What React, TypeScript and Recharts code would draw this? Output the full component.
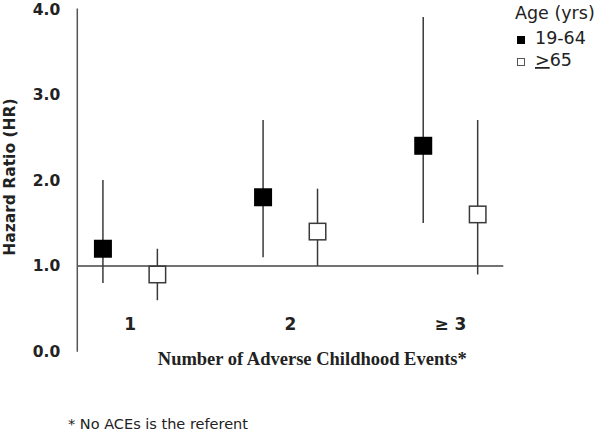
import { ScatterChart, Scatter, XAxis, YAxis, ErrorBar, ReferenceLine } from "recharts";

const categories = ["1", "2", "≥ 3"];
const ageGroups = ["19-64", "≥65"];

// hazard ratio with 95% CI, per ACE count
const youngHR = [1.2, 1.8, 2.4];
const youngLow = [0.8, 1.1, 1.5];
const youngHigh = [2.0, 2.7, 3.9];

const olderHR = [0.9, 1.4, 1.6];
const olderLow = [0.6, 1.0, 0.9];
const olderHigh = [1.2, 1.9, 2.7];

const yTicks = [0, 1, 2, 3, 4];

const SANS = "'DejaVu Sans', sans-serif";
const SERIF = "'Liberation Serif', 'Times New Roman', serif";
const INK = "#222";
const LINE = "#3a3a3a";

const toPoints = (hr: number[], low: number[], high: number[], shift: number) =>
  categories.map((_, i) => ({
    x: i + 1 + shift,
    hr: hr[i],
    ci: [hr[i] - low[i], high[i] - hr[i]],
  }));

const youngData = toPoints(youngHR, youngLow, youngHigh, -0.17);
const olderData = toPoints(olderHR, olderLow, olderHigh, 0.17);

const FilledSquare = (p: any) => (
  <rect x={p.cx - 9} y={p.cy - 9} width={18} height={18} fill="#000" />
);
const OpenSquare = (p: any) => (
  <rect
    x={p.cx - 8.25}
    y={p.cy - 8.25}
    width={16.5}
    height={16.5}
    fill="#fff"
    stroke={LINE}
    strokeWidth={1.5}
  />
);

const CategoryTick = ({ x, y, payload }: any) => (
  <text
    x={x}
    y={y - 22}
    textAnchor="middle"
    fill={INK}
    fontSize={17}
    fontWeight="bold"
    fontFamily={SANS}
  >
    {categories[Math.round(payload.value) - 1]}
  </text>
);

export default function App() {
  return (
    <div style={{ position: "absolute", left: 0, top: 0, width: 600, height: 433, background: "#fff" }}>
      <ScatterChart
        width={600}
        height={433}
        margin={{ top: 8.5, right: 96.7, bottom: 0, left: 0 }}
      >
        <XAxis
          type="number"
          dataKey="x"
          domain={[0.67, 3.33]}
          ticks={[1, 2, 3]}
          axisLine={false}
          tickLine={false}
          tickSize={0}
          tickMargin={0}
          height={81.3}
          tick={<CategoryTick />}
          label={(props: any) => {
            const vb = props.viewBox;
            return (
              <text
                x={vb.x + vb.width / 2 + 22}
                y={vb.y + 13}
                textAnchor="middle"
                fill={INK}
                fontSize={18.5}
                fontWeight="bold"
                fontFamily={SERIF}
              >
                Number of Adverse Childhood Events*
              </text>
            );
          }}
        />
        <YAxis
          type="number"
          dataKey="hr"
          domain={[0, 4]}
          ticks={yTicks}
          width={77.3}
          tickLine={false}
          tickSize={6}
          tickMargin={11}
          axisLine={{ stroke: "#555", strokeWidth: 1.5 }}
          tickFormatter={(v: number) => v.toFixed(1)}
          tick={{ fill: INK, fontSize: 15.5, fontWeight: "bold", fontFamily: SANS }}
          label={(props: any) => {
            const vb = props.viewBox;
            const cx = vb.x + 10;
            const cy = vb.y + vb.height / 2 - 3;
            return (
              <text
                x={cx}
                y={cy}
                transform={`rotate(-90 ${cx} ${cy})`}
                textAnchor="middle"
                dominantBaseline="central"
                fill={INK}
                fontSize={15.5}
                fontWeight="bold"
                fontFamily={SANS}
              >
                Hazard Ratio (HR)
              </text>
            );
          }}
        />
        <ReferenceLine y={1} stroke="#444" strokeWidth={1.5} />
        <Scatter name={ageGroups[0]} data={youngData} shape={FilledSquare} isAnimationActive={false}>
          <ErrorBar dataKey="ci" direction="y" width={0} stroke={LINE} strokeWidth={1.5} />
        </Scatter>
        <Scatter name={ageGroups[1]} data={olderData} shape={OpenSquare} isAnimationActive={false}>
          <ErrorBar dataKey="ci" direction="y" width={0} stroke={LINE} strokeWidth={1.5} />
        </Scatter>
      </ScatterChart>

      <svg
        width={95}
        height={80}
        style={{ position: "absolute", left: 505, top: 0 }}
        fontFamily={SANS}
        fill={INK}
      >
        <text x={10} y={19} fontSize={17.5}>Age (yrs)</text>
        <rect x={12} y={36} width={8} height={8} fill="#000" />
        <text x={30} y={44} fontSize={17.5}>{ageGroups[0]}</text>
        <rect x={12.5} y={58.5} width={7} height={7} fill="#fff" stroke="#555" strokeWidth={1} />
        <text x={30} y={66} fontSize={17.5}>
          <tspan textDecoration="underline">&gt;</tspan>
          {ageGroups[1].slice(1)}
        </text>
      </svg>

      <div
        style={{
          position: "absolute",
          left: 68,
          top: 416,
          fontFamily: SANS,
          fontSize: 14.5,
          color: INK,
          lineHeight: "17px",
          whiteSpace: "nowrap",
        }}
      >
        * No ACEs is the referent
      </div>
    </div>
  );
}
